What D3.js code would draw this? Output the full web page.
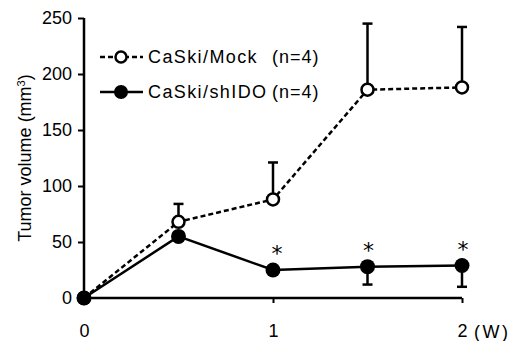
<!DOCTYPE html>
<html>
<head>
<meta charset="utf-8">
<script src="https://cdn.jsdelivr.net/npm/d3@7"></script>
<style>
  body { margin: 0; background: #fff; }
  text { font-family: "Liberation Sans", Arial, sans-serif; fill: #000; }
</style>
</head>
<body>
<div class="chart"></div>
<script>
var svgWidth = 521;
var svgHeight = 341;

// data (weeks, tumour volume mm3)
var weeks = [0, 0.5, 1, 1.5, 2];
var mockMean = [0, 68, 88, 186, 188];
var mockErr = [0, 16, 33, 59, 54];
var shidoMean = [0, 55, 25, 28, 29];
var shidoErr = [0, 3, 2, 16, 19];
var starWeeks = [1, 1.5, 2];
var yTicks = [0, 50, 100, 150, 200, 250];
var xTicks = [0, 1, 2];

var svg = d3.select(".chart")
  .append("svg")
  .attr("width", svgWidth)
  .attr("height", svgHeight);

var x = d3.scaleLinear().domain([0, 2]).range([84, 462]);
var y = d3.scaleLinear().domain([0, 250]).range([298, 18]);

// axes
var leftAxis = d3.axisLeft(y).tickValues(yTicks).tickSize(6).tickPadding(6);
var gy = svg.append("g").attr("transform", "translate(84,0)").call(leftAxis);
gy.select(".domain").attr("d", "M0," + y(250) + "V" + y(0)).attr("stroke-width", 2.5);
gy.selectAll(".tick line").attr("stroke-width", 2);
gy.selectAll(".tick text").style("font-size", "18px").attr("fill", "#000");

var bottomAxis = d3.axisBottom(x).tickValues(xTicks).tickFormat(d3.format("d"))
  .tickSize(5).tickPadding(21);
var gx = svg.append("g").attr("transform", "translate(0,298)").call(bottomAxis);
gx.select(".domain").attr("d", "M" + x(0) + ",0H" + x(2)).attr("stroke-width", 2.5);
gx.selectAll(".tick line").attr("stroke-width", 2);
gx.selectAll(".tick text").style("font-size", "18px").attr("fill", "#000");

svg.append("text")
  .attr("x", 474).attr("y", 338)
  .style("font-size", "18px").style("letter-spacing", "2.5px")
  .attr("fill", "#000")
  .text("(W)");

// y label
svg.append("text")
  .attr("transform", "translate(31,158) rotate(-90)")
  .attr("text-anchor", "middle")
  .attr("fill", "#000")
  .style("font-size", "18px")
  .html("Tumor volume (mm<tspan dy='-6' style='font-size:11px'>3</tspan><tspan dy='6'>)</tspan>");

var line = d3.line()
  .x(function(d, i) { return x(weeks[i]); })
  .y(function(d) { return y(d); });

// mock series: error up, dashed line, open circles
svg.selectAll(".errM")
  .data(mockMean)
  .enter()
  .append("g")
  .each(function(d, i) {
    if (mockErr[i] <= 0) return;
    var g = d3.select(this);
    g.append("line")
      .attr("x1", x(weeks[i])).attr("x2", x(weeks[i]))
      .attr("y1", y(d)).attr("y2", y(d + mockErr[i]))
      .attr("stroke", "#000").attr("stroke-width", 2.5);
    g.append("line")
      .attr("x1", x(weeks[i]) - 5).attr("x2", x(weeks[i]) + 5)
      .attr("y1", y(d + mockErr[i])).attr("y2", y(d + mockErr[i]))
      .attr("stroke", "#000").attr("stroke-width", 2.5);
  });

svg.append("path")
  .datum(mockMean)
  .attr("d", line)
  .attr("fill", "none")
  .attr("stroke", "#000")
  .attr("stroke-width", 2.5)
  .attr("stroke-dasharray", "5,3");

svg.selectAll(".ptM")
  .data(mockMean)
  .enter()
  .append("circle")
  .attr("cx", function(d, i) { return x(weeks[i]); })
  .attr("cy", function(d) { return y(d); })
  .attr("r", 6)
  .attr("fill", "#fff")
  .attr("stroke", "#000")
  .attr("stroke-width", 2.5);

// shIDO series: error down, solid line, filled circles
svg.selectAll(".errS")
  .data(shidoMean)
  .enter()
  .append("g")
  .each(function(d, i) {
    if (shidoErr[i] <= 0) return;
    var g = d3.select(this);
    g.append("line")
      .attr("x1", x(weeks[i])).attr("x2", x(weeks[i]))
      .attr("y1", y(d)).attr("y2", y(d - shidoErr[i]))
      .attr("stroke", "#000").attr("stroke-width", 2.5);
    g.append("line")
      .attr("x1", x(weeks[i]) - 5).attr("x2", x(weeks[i]) + 5)
      .attr("y1", y(d - shidoErr[i])).attr("y2", y(d - shidoErr[i]))
      .attr("stroke", "#000").attr("stroke-width", 2.5);
  });

svg.append("path")
  .datum(shidoMean)
  .attr("d", line)
  .attr("fill", "none")
  .attr("stroke", "#000")
  .attr("stroke-width", 2.5);

svg.selectAll(".ptS")
  .data(shidoMean)
  .enter()
  .append("circle")
  .attr("cx", function(d, i) { return x(weeks[i]); })
  .attr("cy", function(d) { return y(d); })
  .attr("r", 7.5)
  .attr("fill", "#000");

// significance stars
svg.selectAll(".star")
  .data(starWeeks)
  .enter()
  .append("text")
  .attr("x", function(d) { return x(d) + (d === 1 ? 4 : 1); })
  .attr("y", function(d) { return y(shidoMean[weeks.indexOf(d)]) - 9; })
  .attr("text-anchor", "middle")
  .attr("fill", "#000")
  .style("font-family", "DejaVu Sans")
  .style("font-size", "22px")
  .text("*");

// legend
var legend = svg.append("g");
legend.append("line")
  .attr("x1", 100).attr("x2", 143).attr("y1", 57).attr("y2", 57)
  .attr("stroke", "#000").attr("stroke-width", 2.5).attr("stroke-dasharray", "5,3");
legend.append("circle")
  .attr("cx", 121).attr("cy", 57).attr("r", 5.5)
  .attr("fill", "#fff").attr("stroke", "#000").attr("stroke-width", 2.5);
legend.append("line")
  .attr("x1", 100).attr("x2", 143).attr("y1", 92).attr("y2", 92)
  .attr("stroke", "#000").attr("stroke-width", 2.5);
legend.append("circle")
  .attr("cx", 121).attr("cy", 92).attr("r", 7)
  .attr("fill", "#000");
legend.append("text").attr("x", 148).attr("y", 63)
  .style("font-size", "18px").style("letter-spacing", "1.4px")
  .text("CaSki/Mock");
legend.append("text").attr("x", 272).attr("y", 63)
  .style("font-size", "18px").style("letter-spacing", "1px")
  .text("(n=4)");
legend.append("text").attr("x", 148).attr("y", 98)
  .style("font-size", "18px").style("letter-spacing", "1.4px")
  .text("CaSki/shIDO");
legend.append("text").attr("x", 272).attr("y", 98)
  .style("font-size", "18px").style("letter-spacing", "1px")
  .text("(n=4)");
</script>
</body>
</html>
